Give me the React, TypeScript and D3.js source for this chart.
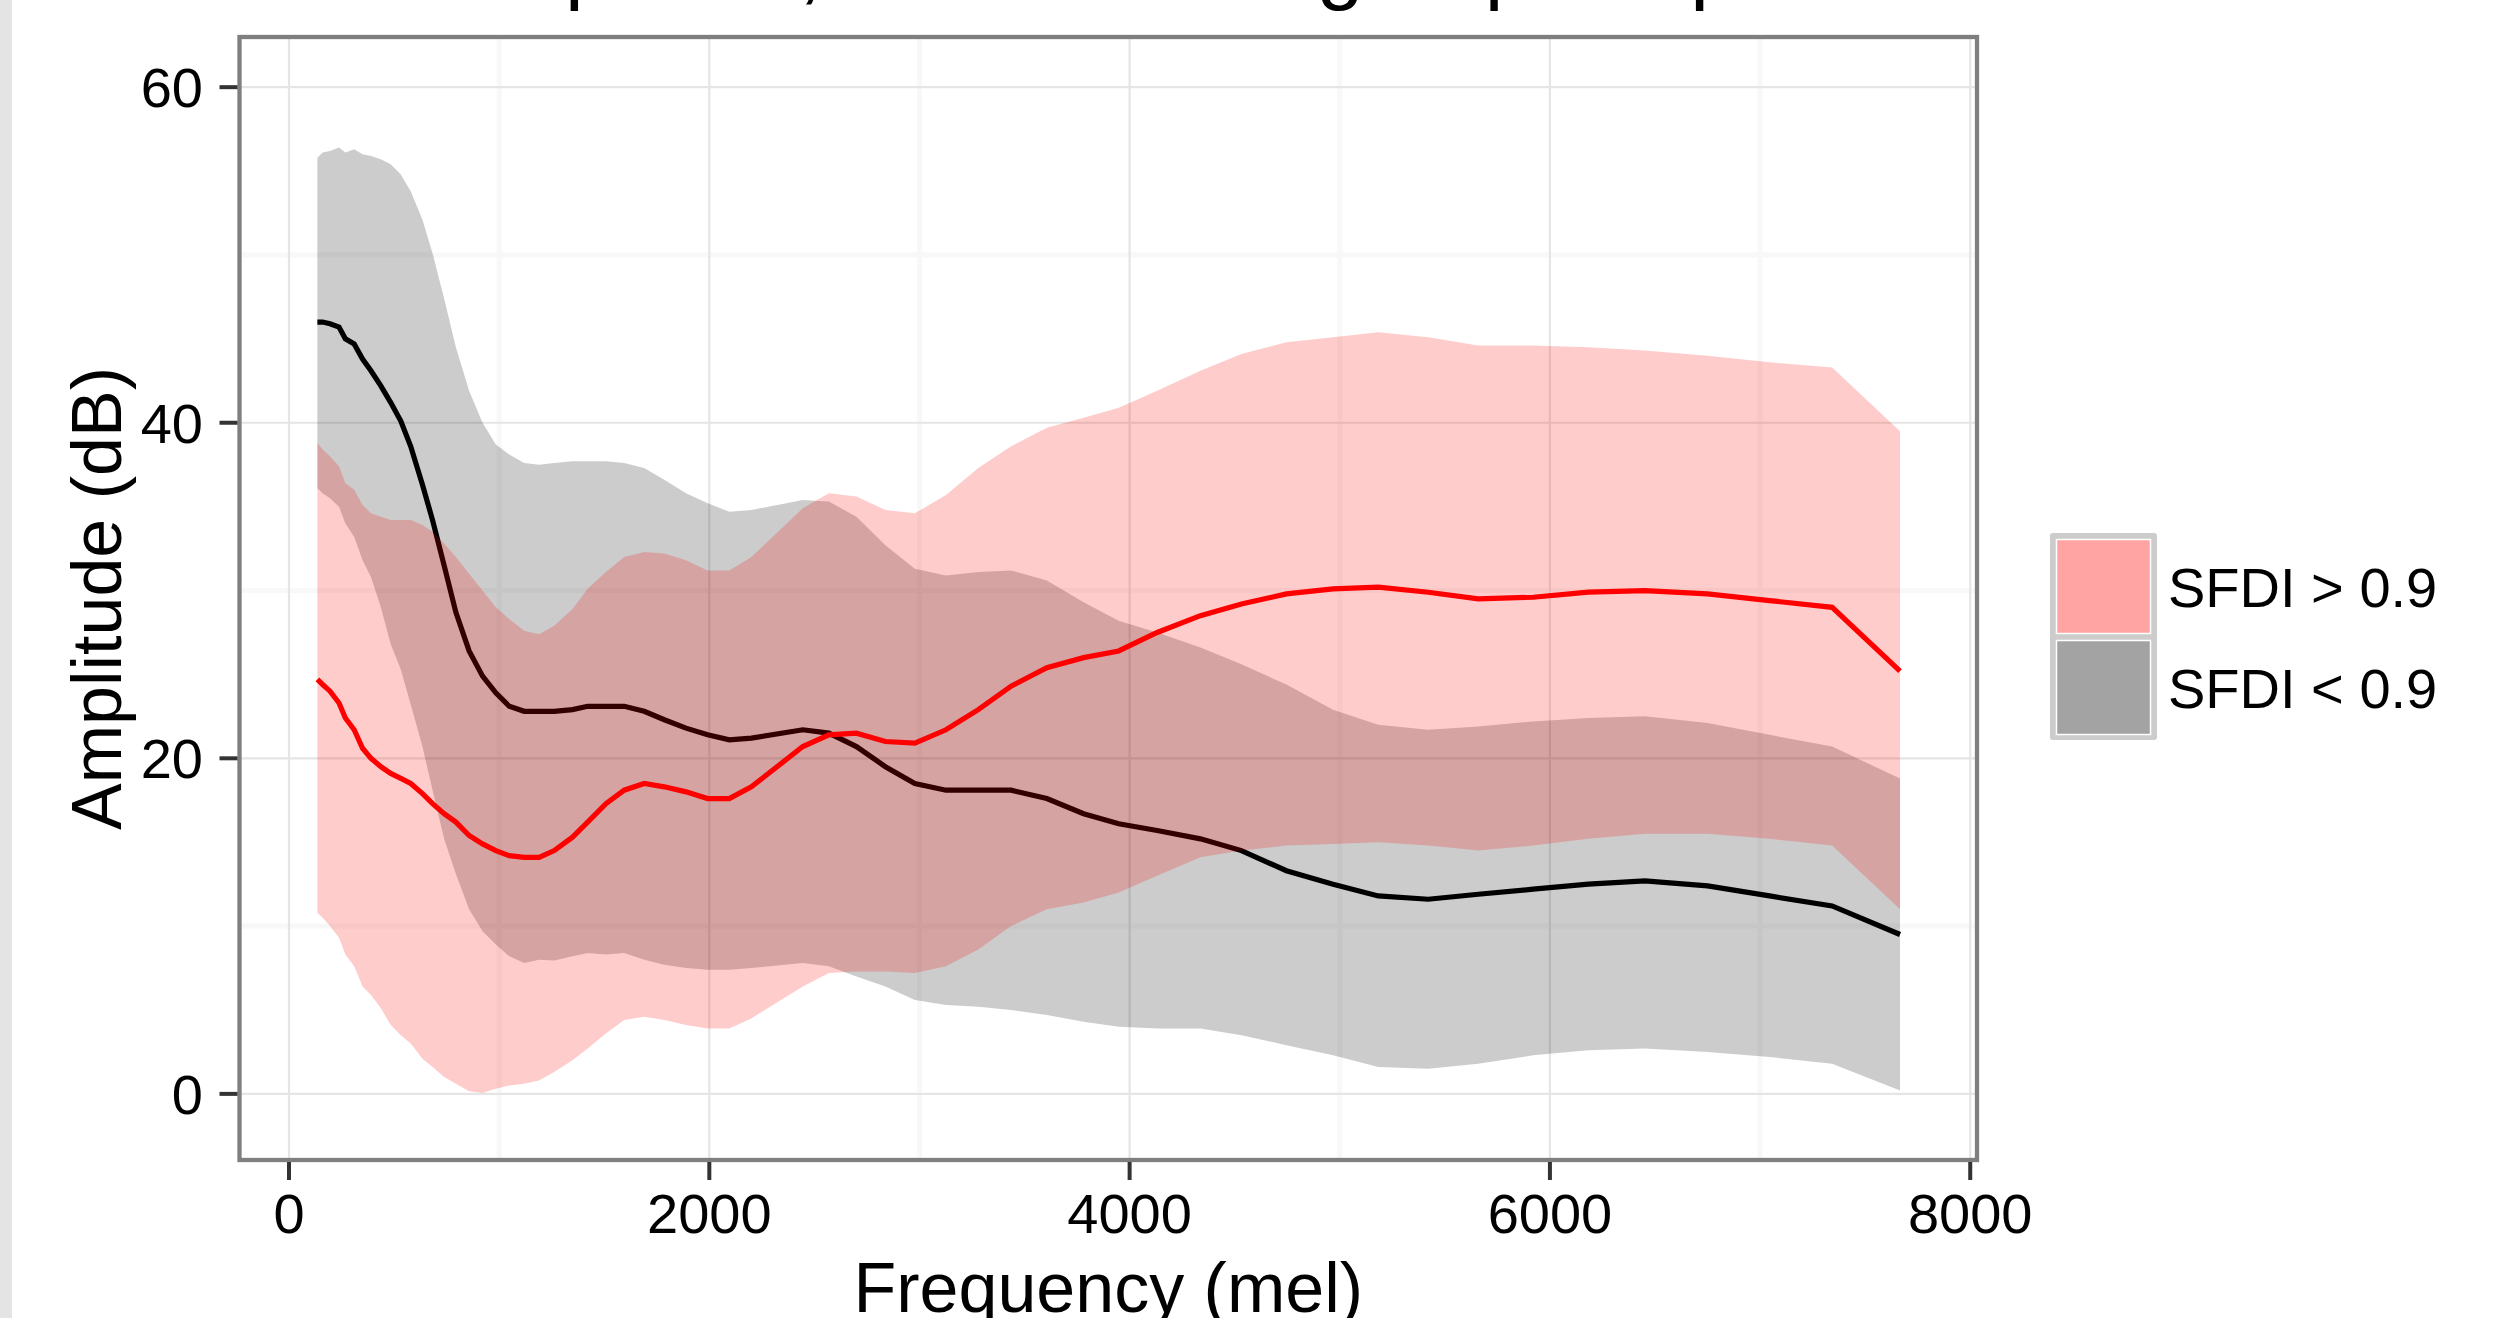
import React, { useRef, useEffect } from 'react';
import * as d3 from 'd3';

// mel frequency of each bin
const freq = [
  135, 160, 195, 238, 268, 310, 350, 390, 437, 484, 532, 579, 635, 683, 738, 794,
  857, 921, 984, 1048, 1119, 1190, 1262, 1349, 1421, 1508, 1595, 1690, 1786, 1889,
  1992, 2095, 2200, 2445, 2569, 2700, 2838, 2978, 3126, 3280, 3436, 3606, 3781, 3948,
  4131, 4337, 4532, 4746, 4968, 5183, 5421, 5659, 5920, 6183, 6452, 6750, 7045, 7343, 7666,
];

// SFDI > 0.9 (red)
const highMean = [
  24.7, 24.4, 24.0, 23.3, 22.4, 21.7, 20.6, 20.0, 19.5, 19.1, 18.8, 18.5, 17.9, 17.3, 16.7, 16.2,
  15.4, 14.9, 14.5, 14.2, 14.1, 14.1, 14.5, 15.3, 16.2, 17.3, 18.1, 18.5, 18.3, 18.0,
  17.6, 17.6, 18.3, 20.7, 21.4, 21.5, 21.0, 20.9, 21.7, 22.9, 24.3, 25.4, 26.0, 26.4,
  27.5, 28.5, 29.2, 29.8, 30.1, 30.2, 29.9, 29.5, 29.6, 29.9, 30.0, 29.8, 29.4, 29.0, 25.2,
];
const highLo = [
  10.8, 10.5, 10.0, 9.3, 8.3, 7.6, 6.4, 5.9, 5.1, 4.1, 3.5, 3.0, 2.1, 1.6, 1.0, 0.6,
  0.15, 0.05, 0.3, 0.5, 0.6, 0.8, 1.3, 2.0, 2.7, 3.6, 4.4, 4.6, 4.4, 4.1,
  3.9, 3.9, 4.5, 6.4, 7.2, 7.3, 7.3, 7.2, 7.6, 8.6, 10.0, 11.0, 11.4, 12.0,
  13.0, 14.1, 14.5, 14.8, 14.9, 15.0, 14.8, 14.5, 14.8, 15.2, 15.5, 15.5, 15.2, 14.8, 11.0,
];
const highHi = [
  38.8, 38.4, 38.0, 37.4, 36.4, 36.0, 35.1, 34.6, 34.4, 34.2, 34.2, 34.2, 33.9, 33.5, 32.8, 32.0,
  31.0, 30.0, 29.0, 28.3, 27.6, 27.4, 27.9, 28.9, 30.1, 31.1, 32.0, 32.3, 32.2, 31.8,
  31.2, 31.2, 32.0, 34.9, 35.8, 35.6, 34.8, 34.6, 35.7, 37.3, 38.6, 39.7, 40.3, 40.9,
  41.9, 43.1, 44.1, 44.8, 45.1, 45.4, 45.1, 44.6, 44.6, 44.5, 44.3, 44.0, 43.6, 43.3, 39.5,
];

// SFDI < 0.9 (black)
const lowMean = [
  46.0, 46.0, 45.9, 45.7, 45.0, 44.7, 43.8, 43.1, 42.2, 41.2, 40.1, 38.6, 36.3, 34.2, 31.5, 28.7,
  26.4, 24.9, 23.9, 23.1, 22.8, 22.8, 22.8, 22.9, 23.1, 23.1, 23.1, 22.8, 22.3, 21.8,
  21.4, 21.1, 21.2, 21.7, 21.5, 20.7, 19.5, 18.5, 18.1, 18.1, 18.1, 17.6, 16.7, 16.1,
  15.7, 15.2, 14.5, 13.3, 12.5, 11.8, 11.6, 11.9, 12.2, 12.5, 12.7, 12.4, 11.8, 11.2, 9.5,
];
const lowLo = [
  36.1, 35.8, 35.5, 35.0, 34.0, 33.2, 31.8, 30.8, 29.0, 26.8, 25.3, 23.2, 20.7, 18.1, 15.2, 13.1,
  11.0, 9.7, 8.9, 8.2, 7.8, 8.0, 7.95, 8.2, 8.4, 8.3, 8.4, 8.0, 7.7, 7.5,
  7.4, 7.4, 7.5, 7.8, 7.6, 7.0, 6.4, 5.6, 5.3, 5.2, 5.0, 4.7, 4.3, 4.0,
  3.9, 3.9, 3.5, 2.9, 2.3, 1.6, 1.5, 1.8, 2.3, 2.6, 2.7, 2.5, 2.2, 1.8, 0.2,
];
const lowHi = [
  55.8, 56.1, 56.2, 56.4, 56.1, 56.3, 56.0, 55.9, 55.7, 55.4, 54.8, 53.8, 52.1, 50.1, 47.4, 44.5,
  41.9, 40.0, 38.7, 38.1, 37.6, 37.5, 37.6, 37.7, 37.7, 37.7, 37.6, 37.3, 36.6, 35.8,
  35.2, 34.7, 34.8, 35.4, 35.3, 34.4, 32.7, 31.3, 30.9, 31.1, 31.2, 30.6, 29.3, 28.2,
  27.5, 26.6, 25.6, 24.4, 22.9, 22.0, 21.7, 21.9, 22.2, 22.4, 22.5, 22.1, 21.4, 20.7, 18.8,
];

const xTicks = [0, 2000, 4000, 6000, 8000];
const xMinor = [1000, 3000, 5000, 7000];
const yTicks = [0, 20, 40, 60];
const yMinor = [10, 30, 50];
const legendLabels = ['SFDI > 0.9', 'SFDI < 0.9'];

const FONT = "'Liberation Sans', Arial, Helvetica, sans-serif";

const SpectraChart = ({ width = 2498, height = 1318 }) => {
  const svgRef = useRef(null);

  useEffect(() => {
    const svg = d3.select(svgRef.current);
    svg.selectAll('*').remove();

    const panel = { left: 239.5, right: 1977, top: 37, bottom: 1160 };

    const x = d3.scaleLinear().domain([-238, 8037]).range([239, 1978]);
    const y = d3.scaleLinear().domain([-4.0, 63.05]).range([1161, 36]);

    svg.append('rect').attr('width', width).attr('height', height).attr('fill', '#fff');
    // grey strip at the left edge
    svg.append('rect').attr('x', 0).attr('y', 0).attr('width', 12).attr('height', height).attr('fill', '#e4e4e4');

    // title (mostly cut off above the frame)
    svg.append('text')
      .attr('x', width / 2)
      .attr('y', -6)
      .attr('text-anchor', 'middle')
      .style('font-family', FONT)
      .style('font-size', '84px')
      .text('Spectra, SFDI-based group of speakers');

    // grid
    const grid = svg.append('g');
    grid.selectAll('.xminor').data(xMinor).enter().append('line')
      .attr('x1', d => x(d)).attr('x2', d => x(d))
      .attr('y1', panel.top).attr('y2', panel.bottom)
      .attr('stroke', '#f8f8f8').attr('stroke-width', 5);
    grid.selectAll('.yminor').data(yMinor).enter().append('line')
      .attr('y1', d => y(d)).attr('y2', d => y(d))
      .attr('x1', panel.left).attr('x2', panel.right)
      .attr('stroke', '#f8f8f8').attr('stroke-width', 5);
    grid.selectAll('.xmajor').data(xTicks).enter().append('line')
      .attr('x1', d => x(d)).attr('x2', d => x(d))
      .attr('y1', panel.top).attr('y2', panel.bottom)
      .attr('stroke', '#e5e5e5').attr('stroke-width', 2.2);
    grid.selectAll('.ymajor').data(yTicks).enter().append('line')
      .attr('y1', d => y(d)).attr('y2', d => y(d))
      .attr('x1', panel.left).attr('x2', panel.right)
      .attr('stroke', '#e5e5e5').attr('stroke-width', 2.2);

    const idx = d3.range(freq.length);
    const band = (lo, hi) => d3.area()
      .x(i => x(freq[i]))
      .y0(i => y(lo[i]))
      .y1(i => y(hi[i]));
    const line = (vals) => d3.line()
      .x(i => x(freq[i]))
      .y(i => y(vals[i]));

    // SFDI < 0.9 first, then SFDI > 0.9 on top
    svg.append('path').attr('d', band(lowLo, lowHi)(idx))
      .attr('fill', '#000').attr('fill-opacity', 0.2);
    svg.append('path').attr('d', line(lowMean)(idx))
      .attr('fill', 'none').attr('stroke', '#000').attr('stroke-width', 5.2);
    svg.append('path').attr('d', band(highLo, highHi)(idx))
      .attr('fill', '#ff0000').attr('fill-opacity', 0.2);
    svg.append('path').attr('d', line(highMean)(idx))
      .attr('fill', 'none').attr('stroke', '#ff0000').attr('stroke-width', 5.2);

    // panel border
    svg.append('rect')
      .attr('x', panel.left).attr('y', panel.top)
      .attr('width', panel.right - panel.left).attr('height', panel.bottom - panel.top)
      .attr('fill', 'none').attr('stroke', '#7f7f7f').attr('stroke-width', 4.3);

    // axes ticks + labels
    const axisX = svg.append('g');
    axisX.selectAll('line').data(xTicks).enter().append('line')
      .attr('x1', d => x(d)).attr('x2', d => x(d))
      .attr('y1', panel.bottom + 2).attr('y2', panel.bottom + 20)
      .attr('stroke', '#333').attr('stroke-width', 4);
    axisX.selectAll('text').data(xTicks).enter().append('text')
      .attr('x', d => x(d)).attr('y', 1233)
      .attr('text-anchor', 'middle')
      .style('font-family', FONT).style('font-size', '56px')
      .text(d => String(d));

    const axisY = svg.append('g');
    axisY.selectAll('line').data(yTicks).enter().append('line')
      .attr('y1', d => y(d)).attr('y2', d => y(d))
      .attr('x1', panel.left - 2).attr('x2', panel.left - 20)
      .attr('stroke', '#333').attr('stroke-width', 4);
    axisY.selectAll('text').data(yTicks).enter().append('text')
      .attr('x', 203).attr('y', d => y(d) + 20)
      .attr('text-anchor', 'end')
      .style('font-family', FONT).style('font-size', '56px')
      .text(d => String(d));

    // axis titles
    svg.append('text')
      .attr('x', (panel.left + panel.right) / 2).attr('y', 1312)
      .attr('text-anchor', 'middle')
      .style('font-family', FONT).style('font-size', '70px')
      .text('Frequency (mel)');
    svg.append('text')
      .attr('transform', `translate(121,${(panel.top + panel.bottom) / 2}) rotate(-90)`)
      .attr('text-anchor', 'middle')
      .style('font-family', FONT).style('font-size', '70px')
      .text('Amplitude (dB)');

    // legend
    const legend = svg.append('g').attr('transform', 'translate(2050,533)');
    legend.append('rect')
      .attr('width', 107).attr('height', 207).attr('rx', 3)
      .attr('fill', '#cccccc');
    const keyFill = ['#ffa3a3', '#a3a3a3'];
    legendLabels.forEach((label, i) => {
      legend.append('rect')
        .attr('x', 6.5).attr('y', 6.5 + i * 101)
        .attr('width', 94).attr('height', 94)
        .attr('fill', keyFill[i]).attr('stroke', '#fff').attr('stroke-width', 1.5);
      legend.append('text')
        .attr('x', 118).attr('y', 74 + i * 101)
        .style('font-family', FONT).style('font-size', '56px')
        .text(label);
    });
  }, [width, height]);

  return (
    <svg
      ref={svgRef}
      width={width}
      height={height}
      style={{ position: 'absolute', left: 0, top: 0, display: 'block' }}
    />
  );
};

export default function App() {
  return <SpectraChart />;
}
